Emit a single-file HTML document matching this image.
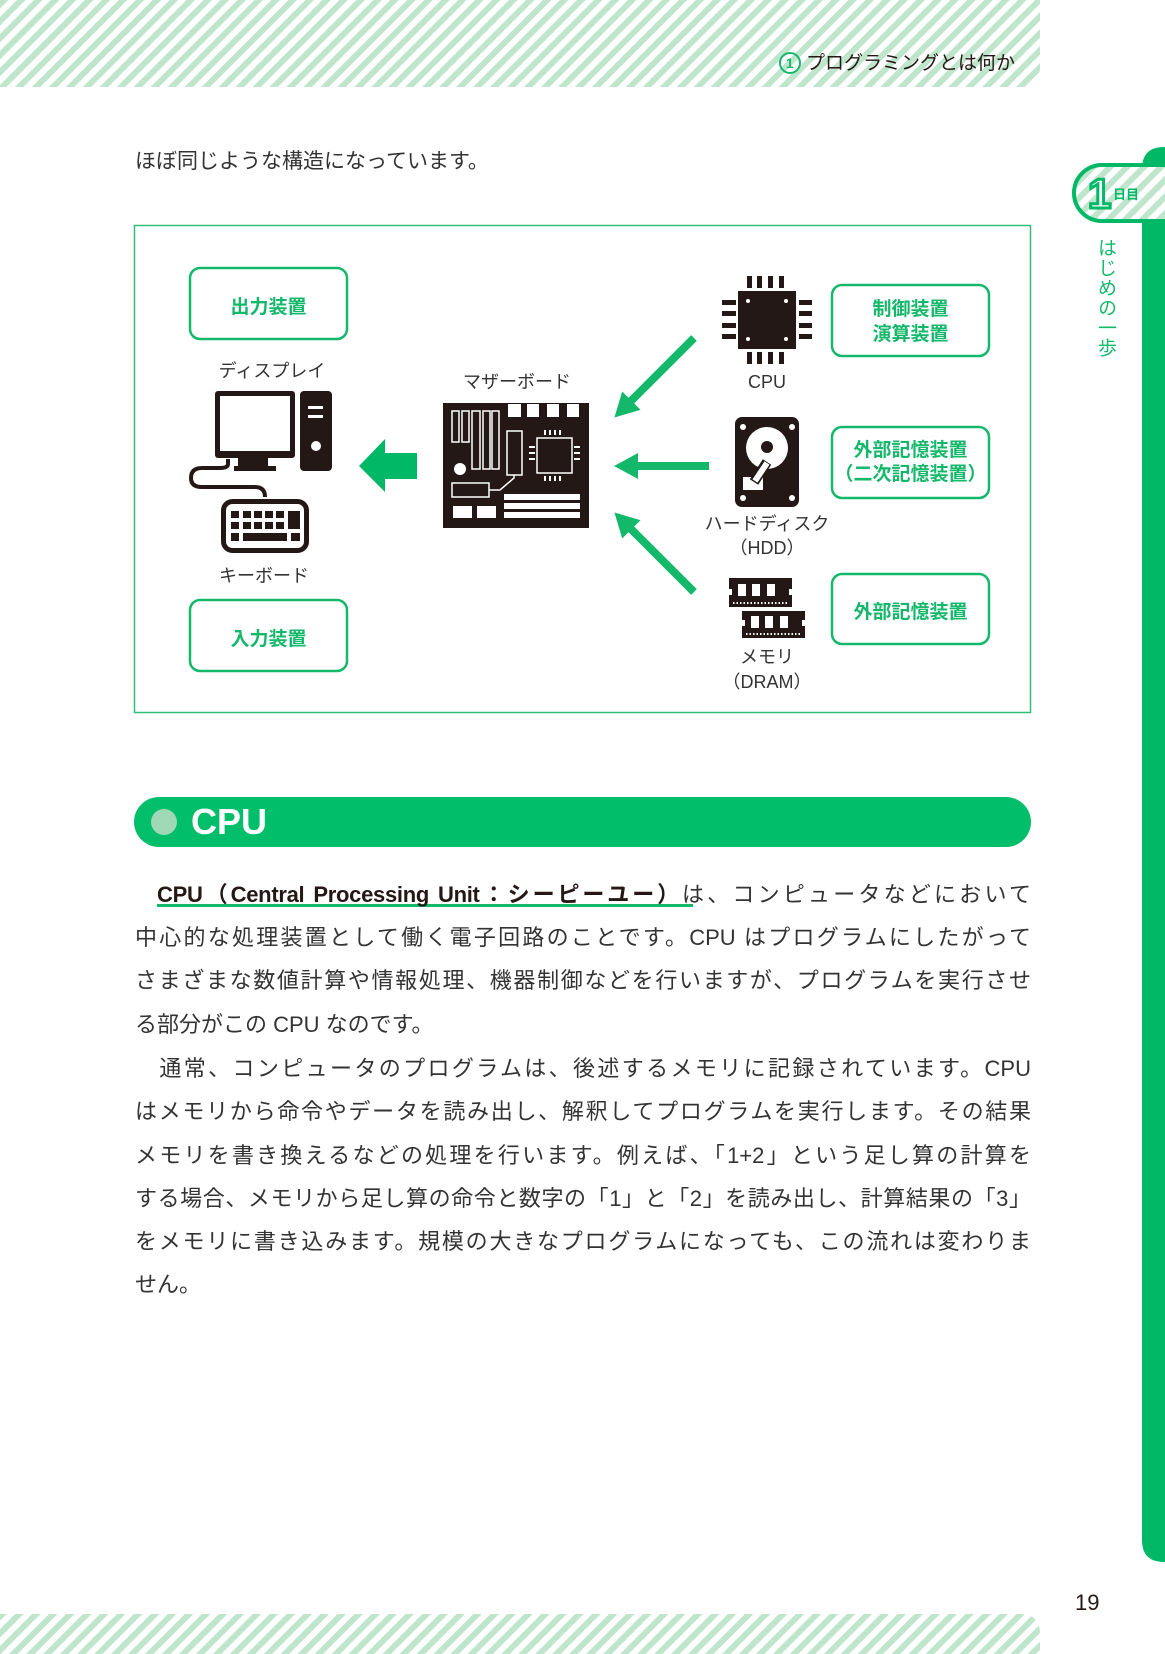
<!DOCTYPE html>
<html><head><meta charset="utf-8"><style>
*{margin:0;padding:0}
body{width:1165px;height:1654px;position:relative;background:#fff;overflow:hidden;font-family:"Liberation Sans","Noto Sans CJK JP",sans-serif;color:#231815}
svg{position:absolute;left:0;top:0}
.t{position:absolute;white-space:nowrap}
.ln{position:absolute;left:135px;width:896px;height:30px;line-height:30px;font-size:22px;text-align:justify;text-align-last:justify;white-space:nowrap;color:#333}
.lb{font-size:18px;color:#333}
.g{color:#14b86a;font-weight:bold;font-size:19px}
</style></head><body>
<svg width="1165" height="1654" viewBox="0 0 1165 1654">
<defs>
<pattern id="st" patternUnits="userSpaceOnUse" width="12" height="12" patternTransform="rotate(45)">
<rect width="12" height="12" fill="#fff"/><rect width="6" height="12" fill="#bfe5cd"/></pattern>
<marker id="ah" markerUnits="userSpaceOnUse" markerWidth="30" markerHeight="30" refX="2" refY="13" orient="auto">
<path d="M0,13 L24,0 L24,26 Z" fill="#14b86a" transform="rotate(180 12 13)"/></marker>
</defs>
<path d="M0,0 H1040 V67 Q1040,87 1020,87 H0 Z" fill="url(#st)"/>
<path d="M0,1614 H1020 Q1040,1614 1040,1634 V1654 H0 Z" fill="url(#st)"/>
<path d="M1165,147 H1164 Q1142,147 1142,169 V1540 Q1142,1562 1164,1562 H1165 Z" fill="#00b865"/>
<rect x="1074" y="165" width="120" height="56" rx="28" fill="url(#st)" stroke="#00b865" stroke-width="4"/>
<rect x="134.5" y="225.5" width="896" height="487" fill="none" stroke="#2fbf76" stroke-width="1.5"/>
<g fill="none" stroke="#14b86a" stroke-width="2.5">
<rect x="190" y="268" width="157" height="71" rx="10"/>
<rect x="190" y="600" width="157" height="71" rx="10"/>
<rect x="832" y="285" width="157" height="71" rx="10"/>
<rect x="832" y="427" width="157" height="71" rx="10"/>
<rect x="832" y="574" width="157" height="70" rx="10"/>
</g>
<g fill="#231815">
<rect x="215" y="391" width="80" height="67" rx="3"/>
<rect x="220" y="396" width="70" height="55" fill="#fff"/>
<rect x="238" y="458" width="30" height="8"/>
<rect x="234" y="466" width="42" height="5"/>
<rect x="300" y="391" width="32" height="80" rx="4"/>
<rect x="308" y="406" width="15" height="3" fill="#fff"/>
<rect x="308" y="415" width="15" height="3" fill="#fff"/>
<circle cx="316" cy="446" r="5" fill="#fff"/>
</g>
<path d="M228,459 V464 Q228,468 220,468 H202 Q191,468 191,478 Q191,487 202,487 H255 Q265,487 265,497" fill="none" stroke="#231815" stroke-width="4"/>
<rect x="223.5" y="501.5" width="83" height="49" rx="9" fill="#fff" stroke="#231815" stroke-width="5"/>
<g fill="#231815">
<rect x="231" y="511" width="8" height="7"/><rect x="243" y="511" width="8" height="7"/><rect x="254" y="511" width="8" height="7"/><rect x="265" y="511" width="8" height="7"/><rect x="276" y="511" width="8" height="7"/>
<rect x="231" y="522" width="8" height="7"/><rect x="243" y="522" width="8" height="7"/><rect x="254" y="522" width="8" height="7"/><rect x="265" y="522" width="8" height="7"/><rect x="276" y="522" width="8" height="7"/>
<rect x="288" y="511" width="12" height="18"/>
<rect x="231" y="533" width="8" height="8"/><rect x="243" y="533" width="44" height="8"/><rect x="291" y="533" width="9" height="8"/>
</g>
<path d="M359,466 L385,439 V453 H417 V479 H385 V492 Z" fill="#00b865"/>
<rect x="443" y="403" width="146" height="125" fill="#231815"/>
<g fill="#fff">
<rect x="508" y="404" width="13" height="13"/><rect x="527" y="404" width="12" height="13"/><rect x="547" y="404" width="12" height="13"/><rect x="567" y="404" width="12" height="13"/>
<circle cx="460" cy="469" r="6"/>
<rect x="453" y="506" width="19" height="12"/><rect x="477" y="506" width="19" height="12"/>
<rect x="504" y="494" width="76" height="6"/><rect x="504" y="503" width="76" height="6"/><rect x="504" y="512" width="76" height="6"/>
<rect x="544" y="430" width="2" height="5"/><rect x="549" y="430" width="2" height="5"/><rect x="554" y="430" width="2" height="5"/><rect x="559" y="430" width="2" height="5"/>
<rect x="544" y="476" width="2" height="5"/><rect x="549" y="476" width="2" height="5"/><rect x="554" y="476" width="2" height="5"/><rect x="559" y="476" width="2" height="5"/>
<rect x="529" y="446" width="6" height="2"/><rect x="529" y="452" width="6" height="2"/><rect x="529" y="458" width="6" height="2"/>
<rect x="574" y="446" width="6" height="2"/><rect x="574" y="452" width="6" height="2"/><rect x="574" y="458" width="6" height="2"/>
</g>
<g fill="none" stroke="#fff" stroke-width="1.5">
<rect x="452" y="411" width="7" height="31"/><rect x="462" y="411" width="7" height="31"/>
<rect x="472" y="411" width="8" height="58"/><rect x="483" y="411" width="7" height="58"/><rect x="492" y="411" width="7" height="58"/>
<rect x="507" y="431" width="15" height="44"/>
<rect x="537" y="438" width="35" height="35"/>
<rect x="452" y="483" width="37" height="14"/>
<path d="M489,490 L500,490 L514,478 V475"/>
</g>
<g fill="#231815">
<rect x="738" y="291" width="58" height="58"/>
<rect x="747" y="276" width="5" height="12"/><rect x="757" y="276" width="5" height="12"/><rect x="768" y="276" width="5" height="12"/><rect x="779" y="276" width="5" height="12"/>
<rect x="747" y="352" width="5" height="12"/><rect x="757" y="352" width="5" height="12"/><rect x="768" y="352" width="5" height="12"/><rect x="779" y="352" width="5" height="12"/>
<rect x="722" y="300" width="14" height="5"/><rect x="722" y="311" width="14" height="5"/><rect x="722" y="323" width="14" height="5"/><rect x="722" y="334" width="14" height="5"/>
<rect x="799" y="300" width="13" height="5"/><rect x="799" y="311" width="13" height="5"/><rect x="799" y="323" width="13" height="5"/><rect x="799" y="334" width="13" height="5"/>
</g>
<g fill="#fff"><circle cx="748" cy="301" r="2"/><circle cx="786" cy="301" r="2"/><circle cx="748" cy="339" r="2"/><circle cx="786" cy="339" r="2"/></g>
<rect x="735" y="417" width="64" height="90" rx="7" fill="#231815"/>
<g fill="#fff"><circle cx="743" cy="427" r="3"/><circle cx="792" cy="427" r="3"/><circle cx="743" cy="498" r="3"/><circle cx="792" cy="498" r="3"/>
<circle cx="767" cy="448" r="21"/><rect x="743" y="477" width="20" height="13"/></g>
<circle cx="767" cy="447" r="6" fill="#231815"/>
<line x1="767" y1="462" x2="754" y2="482" stroke="#231815" stroke-width="10"/>
<line x1="767" y1="463" x2="755" y2="481" stroke="#fff" stroke-width="6"/>
<g>
<rect x="729" y="578" width="63" height="29" fill="#231815"/>
<rect x="742" y="611" width="63" height="27" fill="#231815"/>
<g fill="#fff">
<rect x="738" y="584" width="8" height="12"/><rect x="752" y="584" width="8" height="12"/><rect x="767" y="584" width="8" height="12"/>
<rect x="751" y="616" width="8" height="12"/><rect x="765" y="616" width="8" height="12"/><rect x="780" y="616" width="8" height="12"/>
<rect x="729" y="589" width="3" height="6"/><rect x="789" y="589" width="3" height="6"/>
<rect x="742" y="620" width="3" height="6"/><rect x="802" y="620" width="3" height="6"/>
</g>
<line x1="733" y1="603" x2="788" y2="603" stroke="#fff" stroke-width="2" stroke-dasharray="1.5 2"/>
<line x1="746" y1="634" x2="801" y2="634" stroke="#fff" stroke-width="2" stroke-dasharray="1.5 2"/>
</g>
<g stroke="#14b86a" stroke-width="8">
<line x1="694" y1="338" x2="630" y2="402" marker-end="url(#ah)"/>
<line x1="709" y1="466" x2="636" y2="466" marker-end="url(#ah)"/>
<line x1="694" y1="592" x2="630" y2="528" marker-end="url(#ah)"/>
</g>
<rect x="134" y="797" width="897" height="50" rx="25" fill="#00be6a"/>
<circle cx="164" cy="822" r="13" fill="#9ed8b4"/>
<rect x="157" y="904" width="536" height="3" fill="#14b86a"/>
</svg>

<div class="t" style="right:150px;top:48px;font-size:19px;color:#231815"><span style="display:inline-block;border:2px solid #14b86a;border-radius:50%;color:#14b86a;font-size:14px;text-align:center;font-weight:bold;vertical-align:1px;box-sizing:border-box;width:22px;height:22px;line-height:18px">1</span> プログラミングとは何か</div>

<div class="t" style="left:1088px;top:170px;font-size:42px;font-weight:bold;color:#fff;-webkit-text-stroke:3px #00b865;line-height:48px">1</div>
<div class="t" style="left:1113px;top:187px;font-size:13px;font-weight:bold;color:#00b865;line-height:16px">日目</div>
<div class="t" style="left:1094px;top:238px;font-size:19px;color:#14b86a;writing-mode:vertical-rl;line-height:22px;letter-spacing:1px">はじめの一歩</div>

<div class="t" style="left:135px;top:145px;font-size:21px;color:#333">ほぼ同じような構造になっています。</div>

<div class="t g" style="left:190px;width:157px;text-align:center;top:292px">出力装置</div>
<div class="t g" style="left:190px;width:157px;text-align:center;top:624px">入力装置</div>
<div class="t g" style="left:832px;width:157px;text-align:center;top:297px;line-height:25px">制御装置<br>演算装置</div>
<div class="t g" style="left:832px;width:157px;text-align:center;top:439px;line-height:24px">外部記憶装置<br>（二次記憶装置）</div>
<div class="t g" style="left:832px;width:157px;text-align:center;top:597px">外部記憶装置</div>

<div class="t lb" style="left:172px;width:200px;text-align:center;top:357px">ディスプレイ</div>
<div class="t lb" style="left:417px;width:200px;text-align:center;top:368px">マザーボード</div>
<div class="t lb" style="left:164px;width:200px;text-align:center;top:562px">キーボード</div>
<div class="t lb" style="left:667px;width:200px;text-align:center;top:372px">CPU</div>
<div class="t lb" style="left:667px;width:200px;text-align:center;top:512px;line-height:24px">ハードディスク<br>（HDD）</div>
<div class="t lb" style="left:667px;width:200px;text-align:center;top:645px;line-height:25px">メモリ<br>（DRAM）</div>

<div class="t" style="left:191px;top:799px;font-size:36px;font-weight:bold;color:#fff;line-height:46px">CPU</div>

<div class="ln" style="top:880px"><span style="display:inline-block;width:22px"></span><b style="color:#231815;letter-spacing:-0.3px">CPU（Central Processing Unit：シーピーユー）</b>は、コンピュータなどにおいて</div>
<div class="ln" style="top:923px">中心的な処理装置として働く電子回路のことです。CPU はプログラムにしたがって</div>
<div class="ln" style="top:966px">さまざまな数値計算や情報処理、機器制御などを行いますが、プログラムを実行させ</div>
<div class="ln" style="top:1010px;width:auto;text-align-last:auto">る部分がこの CPU なのです。</div>
<div class="ln" style="top:1054px"><span style="display:inline-block;width:22px"></span>通常、コンピュータのプログラムは、後述するメモリに記録されています。CPU</div>
<div class="ln" style="top:1097px">はメモリから命令やデータを読み出し、解釈してプログラムを実行します。その結果</div>
<div class="ln" style="top:1141px">メモリを書き換えるなどの処理を行います。例えば、「1+2」という足し算の計算を</div>
<div class="ln" style="top:1184px">する場合、メモリから足し算の命令と数字の「1」と「2」を読み出し、計算結果の「3」</div>
<div class="ln" style="top:1227px">をメモリに書き込みます。規模の大きなプログラムになっても、この流れは変わりま</div>
<div class="ln" style="top:1270px;width:auto;text-align-last:auto">せん。</div>

<div class="t" style="left:1075px;top:1590px;font-size:22px;color:#231815">19</div>
</body></html>
